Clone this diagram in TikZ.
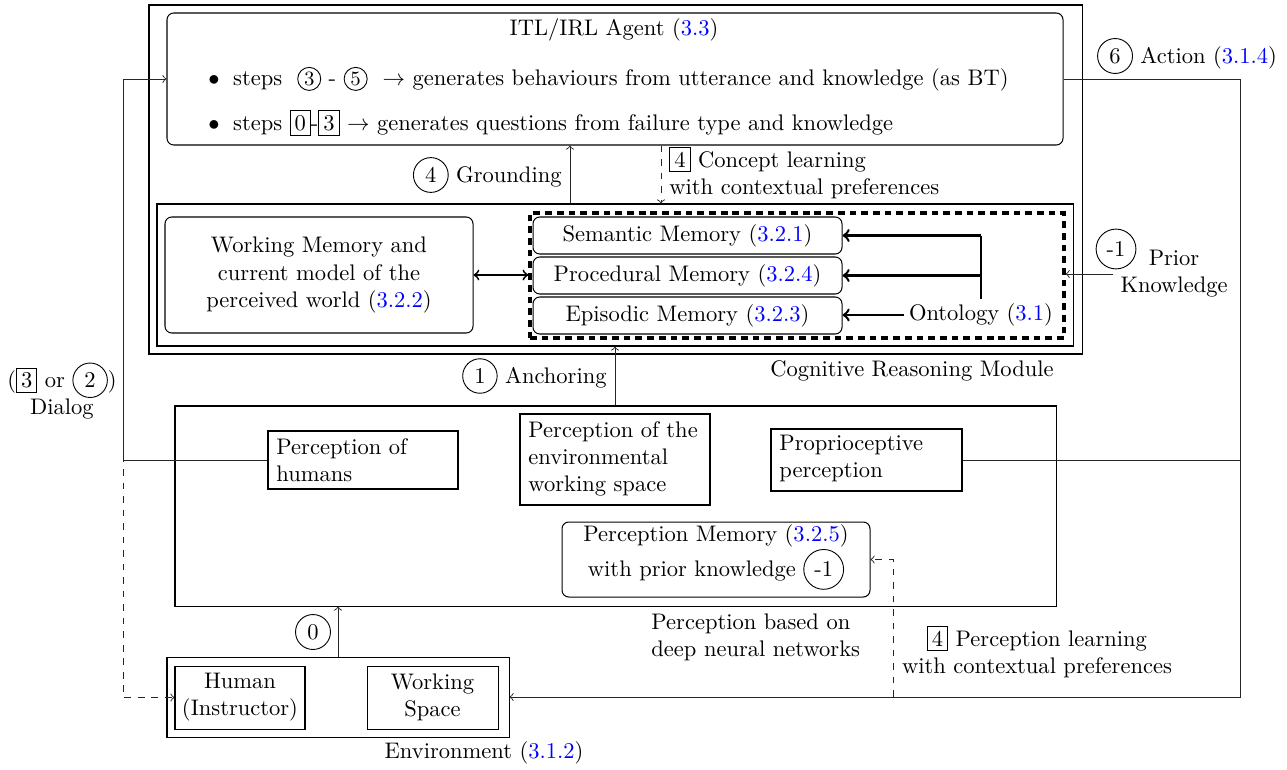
\documentclass[tikz,border=0pt]{standalone}
\usepackage{xcolor}
\usetikzlibrary{fit}
\newcommand\seclink[1]{\textcolor{blue}{#1}}
\newcommand\cnum[1]{\tikz[baseline=(cn.base)]\node[draw,circle,solid,anchor=center,inner sep=2.5pt,line width=0.4pt](cn){#1};}
\newcommand\scnum[1]{\tikz[baseline=(sc.base)]\node[draw,circle,solid,anchor=center,inner sep=0.9pt,font=\small,line width=0.4pt](sc){#1};}
\newcommand\bnum[1]{\tikz[baseline=(bn.base)]\node[draw,rectangle,solid,sharp corners,anchor=center,inner sep=2pt,line width=0.4pt](bn){#1};}
\begin{document}
\begin{tikzpicture}[x=0.444pt,y=-0.444pt,>=to,
  frame/.style={draw, inner sep=0pt, line width=0.45pt},
  rframe/.style={frame, rounded corners=3pt},
  tframe/.style={draw, inner sep=0pt, line width=0.9pt},
  conn/.style={line width=0.4pt, draw=black!85},
  ontoarrow/.style={line width=1.1pt},
  txt/.style={inner sep=0pt, align=center},
  ltxt/.style={inner sep=0pt, align=left}]
\useasboundingbox (0,0) rectangle (1287,769);

% Cognitive reasoning module
\node[frame, fit={(149,5) (1082,354)}] (crm) {};
\node[rframe, fit={(167,13) (1063,145)}] (itl) {};
\node[txt] (itlT) at (614,30) {ITL/IRL Agent (\seclink{3.3})};
\node[ltxt, anchor=west] (it1) at (208,79) {$\bullet$\hspace{6pt}steps\ \ \scnum{3} - \scnum{5}\ \ $\rightarrow$ generates behaviours from utterance and knowledge (as BT)};
\node[ltxt, anchor=west] (it2) at (208,123) {$\bullet$\hspace{6pt}steps \bnum{0}-\bnum{3} $\rightarrow$ generates questions from failure type and knowledge};

\node[frame, fit={(157,204) (1073,346)}] (mem) {};
\node[rframe, fit={(165,217) (473,333)}] (wm) {};
\node[txt] (wmT) at (wm.center) {Working Memory and\\current model of the\\perceived world (\seclink{3.2.2})};
\node[draw, line width=1.4pt, dash pattern=on 3pt off 2.2pt, inner sep=0pt, fit={(530,213) (1064,338)}] (dbox) {};
\node[rframe, fit={(533,217) (842,254)}] (sem) {};
\node[txt] (semT) at (sem.center) {Semantic Memory (\seclink{3.2.1})};
\node[rframe, fit={(533,257) (842,294)}] (proc) {};
\node[txt] (procT) at (proc.center) {Procedural Memory (\seclink{3.2.4})};
\node[rframe, fit={(533,297) (842,334)}] (epi) {};
\node[txt] (epiT) at (epi.center) {Episodic Memory (\seclink{3.2.3})};
\node[inner sep=2pt] (onto) at (981,315) {Ontology (\seclink{3.1})};

\draw[ontoarrow,->] (onto.west) -- (onto.west -| epi.east);
\draw[ontoarrow] (onto.north) -- (onto.north |- sem.east);
\draw[ontoarrow,->] (onto.north |- sem.east) -- (sem.east);
\draw[ontoarrow,->] (onto.north |- proc.east) -- (proc.east);
\draw[line width=0.8pt,<->] (wm.east) -- (wm.east -| dbox.west);

\coordinate (gx) at (570,0);
\draw[conn,->] (mem.north -| gx) -- (itl.south -| gx);
\node[anchor=east, inner sep=0pt] (gl) at (562,175) {\cnum{4} Grounding};
\coordinate (cx) at (661,0);
\draw[conn,->,dashed] (itl.south -| cx) -- (mem.north -| cx);
\node[anchor=base west, inner sep=0pt] (cl1) at (669,167) {\bnum{4} Concept learning};
\node[anchor=base west, inner sep=0pt] (cl2) at (669,194) {with contextual preferences};

\node[inner sep=0pt] (pk1) at (1116,249) {\cnum{-1}};
\node[txt, inner sep=3pt] (pk) at (1174,274) {Prior\\Knowledge};
\draw[conn,->] (pk.west) -- (pk.west -| dbox.east);

\node[inner sep=0pt] (act) at (1187,56) {\cnum{6} Action (\seclink{3.1.4})};
\node (crmL) at (912,371) {Cognitive Reasoning Module};

% Perception
\node[frame, fit={(175,406) (1056,606)}] (perc) {};
\coordinate (ax) at (615,0);
\draw[conn,->] (perc.north -| ax) -- (mem.south -| ax);
\node[anchor=east, inner sep=0pt] (anc) at (607,376) {\cnum{1} Anchoring};

\node[tframe, fit={(268,431) (458,489)}] (hum) {};
\node[ltxt, anchor=west] (humT) at (276,460) {Perception of\\humans};
\node[tframe, fit={(520,414) (710,505)}] (pews) {};
\node[ltxt, anchor=west] (pewsT) at (528,459) {Perception of the\\environmental\\working space};
\node[tframe, fit={(771,429) (962,491)}] (prop) {};
\node[ltxt, anchor=west] (propT) at (779,458) {Proprioceptive\\perception};
\node[rframe, fit={(562,522) (870,597)}] (pmem) {};
\node[txt] (pmemT) at (716,557) {Perception Memory (\seclink{3.2.5})\\with prior knowledge \cnum{-1}};

\node[ltxt, anchor=west] (dnn) at (651,637) {Perception based on\\deep neural networks};
\node[txt] (pll) at (1037,652) {\bnum{4} Perception learning\\with contextual preferences};

% Environment
\node[frame, fit={(167,657) (509,737)}] (env) {};
\node[frame, fit={(175,666) (305,729)}] (human) {};
\node[txt] (humanT) at (human.center) {Human\\(Instructor)};
\node[frame, fit={(367,666) (498,729)}] (ws) {};
\node[txt] (wsT) at (ws.center) {Working\\Space};
\coordinate (ex) at (338,0);
\draw[conn,->] (env.north -| ex) -- (perc.south -| ex);
\node[inner sep=0pt] (zero) at (313,632) {\cnum{0}};
\node (envL) at (484,753) {Environment (\seclink{3.1.2})};

% Action loop
\coordinate (ar) at (1240,79);
\coordinate (br) at (1240,697);
\draw[conn,->] (itl.east) -- (itl.east -| ar) -- (br) -- (env.east);
\draw[conn] (prop.east) -- (prop.east -| ar);
\coordinate (pl) at (893,697);
\draw[conn,->,dashed] (pl) |- (pmem.east);

% Dialog loop
\coordinate (dl) at (123,460);
\draw[conn,->] (hum.west) -- (hum.west -| dl) |- (itl.west);
\coordinate (ds) at (123,388);
\draw[conn,->,dashed] (ds) |- (human.west);
\node[txt] (dlg) at (62,391) {(\bnum{3} or \cnum{2})\\Dialog};
\end{tikzpicture}
\end{document}
